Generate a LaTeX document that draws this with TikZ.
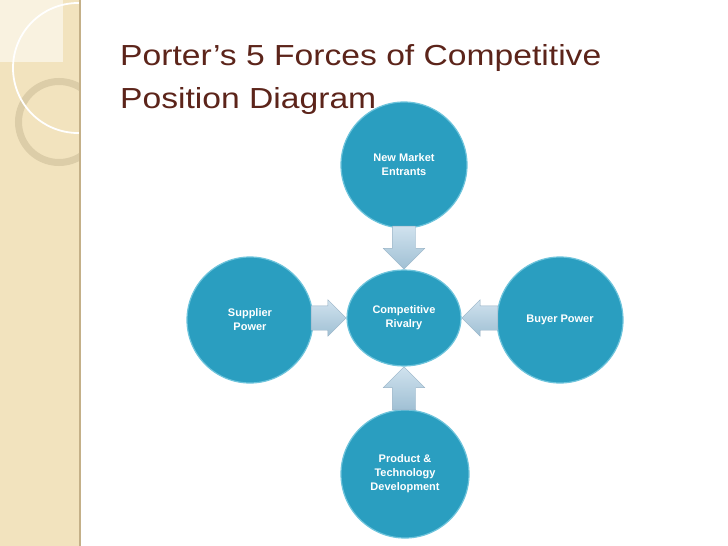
\documentclass[tikz,border=0pt]{standalone}
\usepackage{fontspec}
\setmainfont{Liberation Sans}
\newfontfamily\titlefont[FakeStretch=1.16]{Liberation Sans}
\usetikzlibrary{positioning,calc,shapes.geometric,shapes.arrows}
\definecolor{sidebeige}{RGB}{242,227,190}
\definecolor{sideedge}{RGB}{196,176,136}
\definecolor{ringtan}{RGB}{220,205,168}
\definecolor{patchcream}{RGB}{249,242,224}
\definecolor{titlebrown}{RGB}{92,36,26}
\definecolor{forceteal}{RGB}{42,158,192}
\definecolor{rimteal}{RGB}{110,196,220}
\definecolor{arrowlight}{RGB}{208,226,238}
\definecolor{arrowdark}{RGB}{160,192,212}
\definecolor{arrowedge}{RGB}{150,178,198}

\begin{document}
\begin{tikzpicture}[x=1pt, y=-1pt]
  \tikzset{
    force/.style={circle, draw=rimteal, line width=1.2pt, fill=forceteal, minimum size=126pt, inner sep=0pt, align=center, text=white, font=\bfseries\fontsize{11}{14}\selectfont},
    hub/.style={force, ellipse, minimum width=114pt, minimum height=96pt},
    push/.style={single arrow, draw=arrowedge, thin, top color=arrowlight, bottom color=arrowdark, single arrow head indent=0pt, inner sep=11.5pt, single arrow head extend=9pt, anchor=tip},
    pushside/.style={push, inner xsep=0pt, inner ysep=12pt, single arrow head extend=6pt}
  }

  % Page and sidebar
  \fill[white] (0,0) rectangle (728,546);
  \useasboundingbox (0,0) rectangle (728,546);
  \fill[sidebeige] (0,0) rectangle (80,546);
  \fill[patchcream] (0,0) rectangle (63,62);
  \begin{scope}
    \clip (0,0) rectangle (80,546);
    \draw[ringtan, line width=7pt] (59,122) circle[radius=40.5pt];
    \draw[white, line width=1.8pt] (78,68) circle[radius=65pt];
  \end{scope}
  \draw[sideedge, line width=1.5pt] (80,0) -- (80,546);

  % Title
  \node[anchor=north west, inner sep=0pt, align=left, text=titlebrown, font=\titlefont\fontsize{29}{43}\selectfont] (title) at (120,44) {Porter’s 5 Forces of Competitive\\Position Diagram};

  % Main nodes
  \node[force] (entrants) at (404,165) {New Market\\Entrants};
  \node[hub] (rivalry) at (404,318) {Competitive\\Rivalry};
  \node[force] (supplier) at (250,320) {Supplier\\Power};
  \node[force] (buyer) at (560,320) {Buyer Power};
  \node[force, minimum size=128pt] (product) at (405,474) {Product \&\\Technology\\Development};

  % Block arrows
  \node[push, shape border rotate=270, minimum height=43pt] (pushdown) at (rivalry.north) {};
  \node[push, shape border rotate=90, minimum height=43pt] (pushup) at (rivalry.south) {};
  \node[pushside, minimum height=35pt] (pushright) at (rivalry.west) {};
  \node[pushside, shape border rotate=180, minimum height=36pt] (pushleft) at (rivalry.east) {};

\end{tikzpicture}
\end{document}
